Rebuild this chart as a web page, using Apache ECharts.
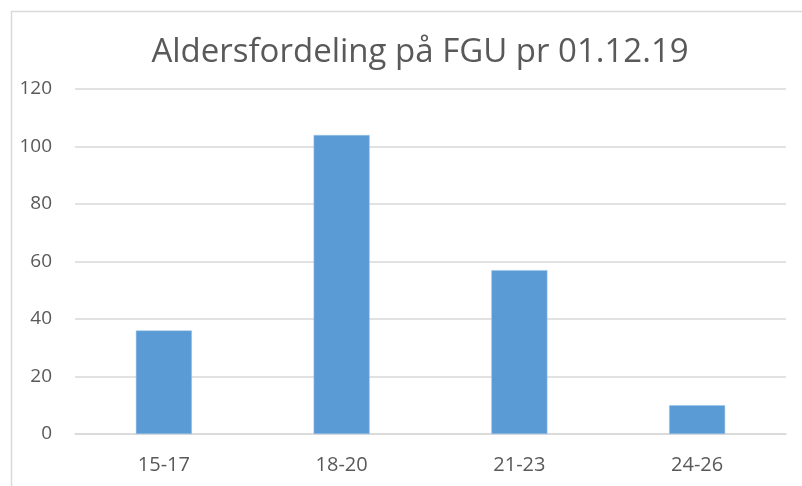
<!DOCTYPE html>
<html><head><meta charset="utf-8">
<script src="https://cdn.jsdelivr.net/npm/echarts@6/dist/echarts.min.js"></script>
<style>html,body{margin:0;padding:0;background:#fff}#c{width:802px;height:486px}</style>
</head><body><div id="c"></div>
<script>
const title = 'Aldersfordeling på FGU pr 01.12.19';
const categories = ['15-17', '18-20', '21-23', '24-26'];
const values = [36, 104, 57, 10];
const yMin = 0, yMax = 120, yStep = 20;

const chart = echarts.init(document.getElementById('c'), null, {renderer: 'canvas'});
chart.setOption({
  animation: false,
  backgroundColor: '#fff',
  title: {
    text: title, left: 415, top: 31, textAlign: 'center',
    textStyle: {fontFamily: 'Open Sans', fontWeight: 'normal', fontSize: 33, color: '#595959'}
  },
  graphic: [{type: 'rect', shape: {x: 11.5, y: 11.5, width: 820, height: 500},
    style: {fill: 'none', stroke: '#d9d9d9', lineWidth: 1.5}, silent: true}],
  grid: {left: 75, right: 16, top: 89, bottom: 52, containLabel: false},
  xAxis: {
    type: 'category', data: categories,
    axisLine: {lineStyle: {color: '#d9d9d9', width: 1.5}},
    axisTick: {show: false},
    axisLabel: {color: '#595959', fontFamily: 'Open Sans', fontSize: 20, margin: 21}
  },
  yAxis: {
    type: 'value', min: yMin, max: yMax, interval: yStep,
    axisLine: {show: false}, axisTick: {show: false},
    splitLine: {lineStyle: {color: '#d9d9d9', width: 1.5}},
    axisLabel: {color: '#595959', fontFamily: 'Open Sans', fontSize: 19, margin: 23, align: 'right'}
  },
  series: [{type: 'bar', data: values, barWidth: 56,
    itemStyle: {color: '#5b9bd5', borderColor: '#9dc3e6', borderWidth: 0.5}}]
});
</script></body></html>
